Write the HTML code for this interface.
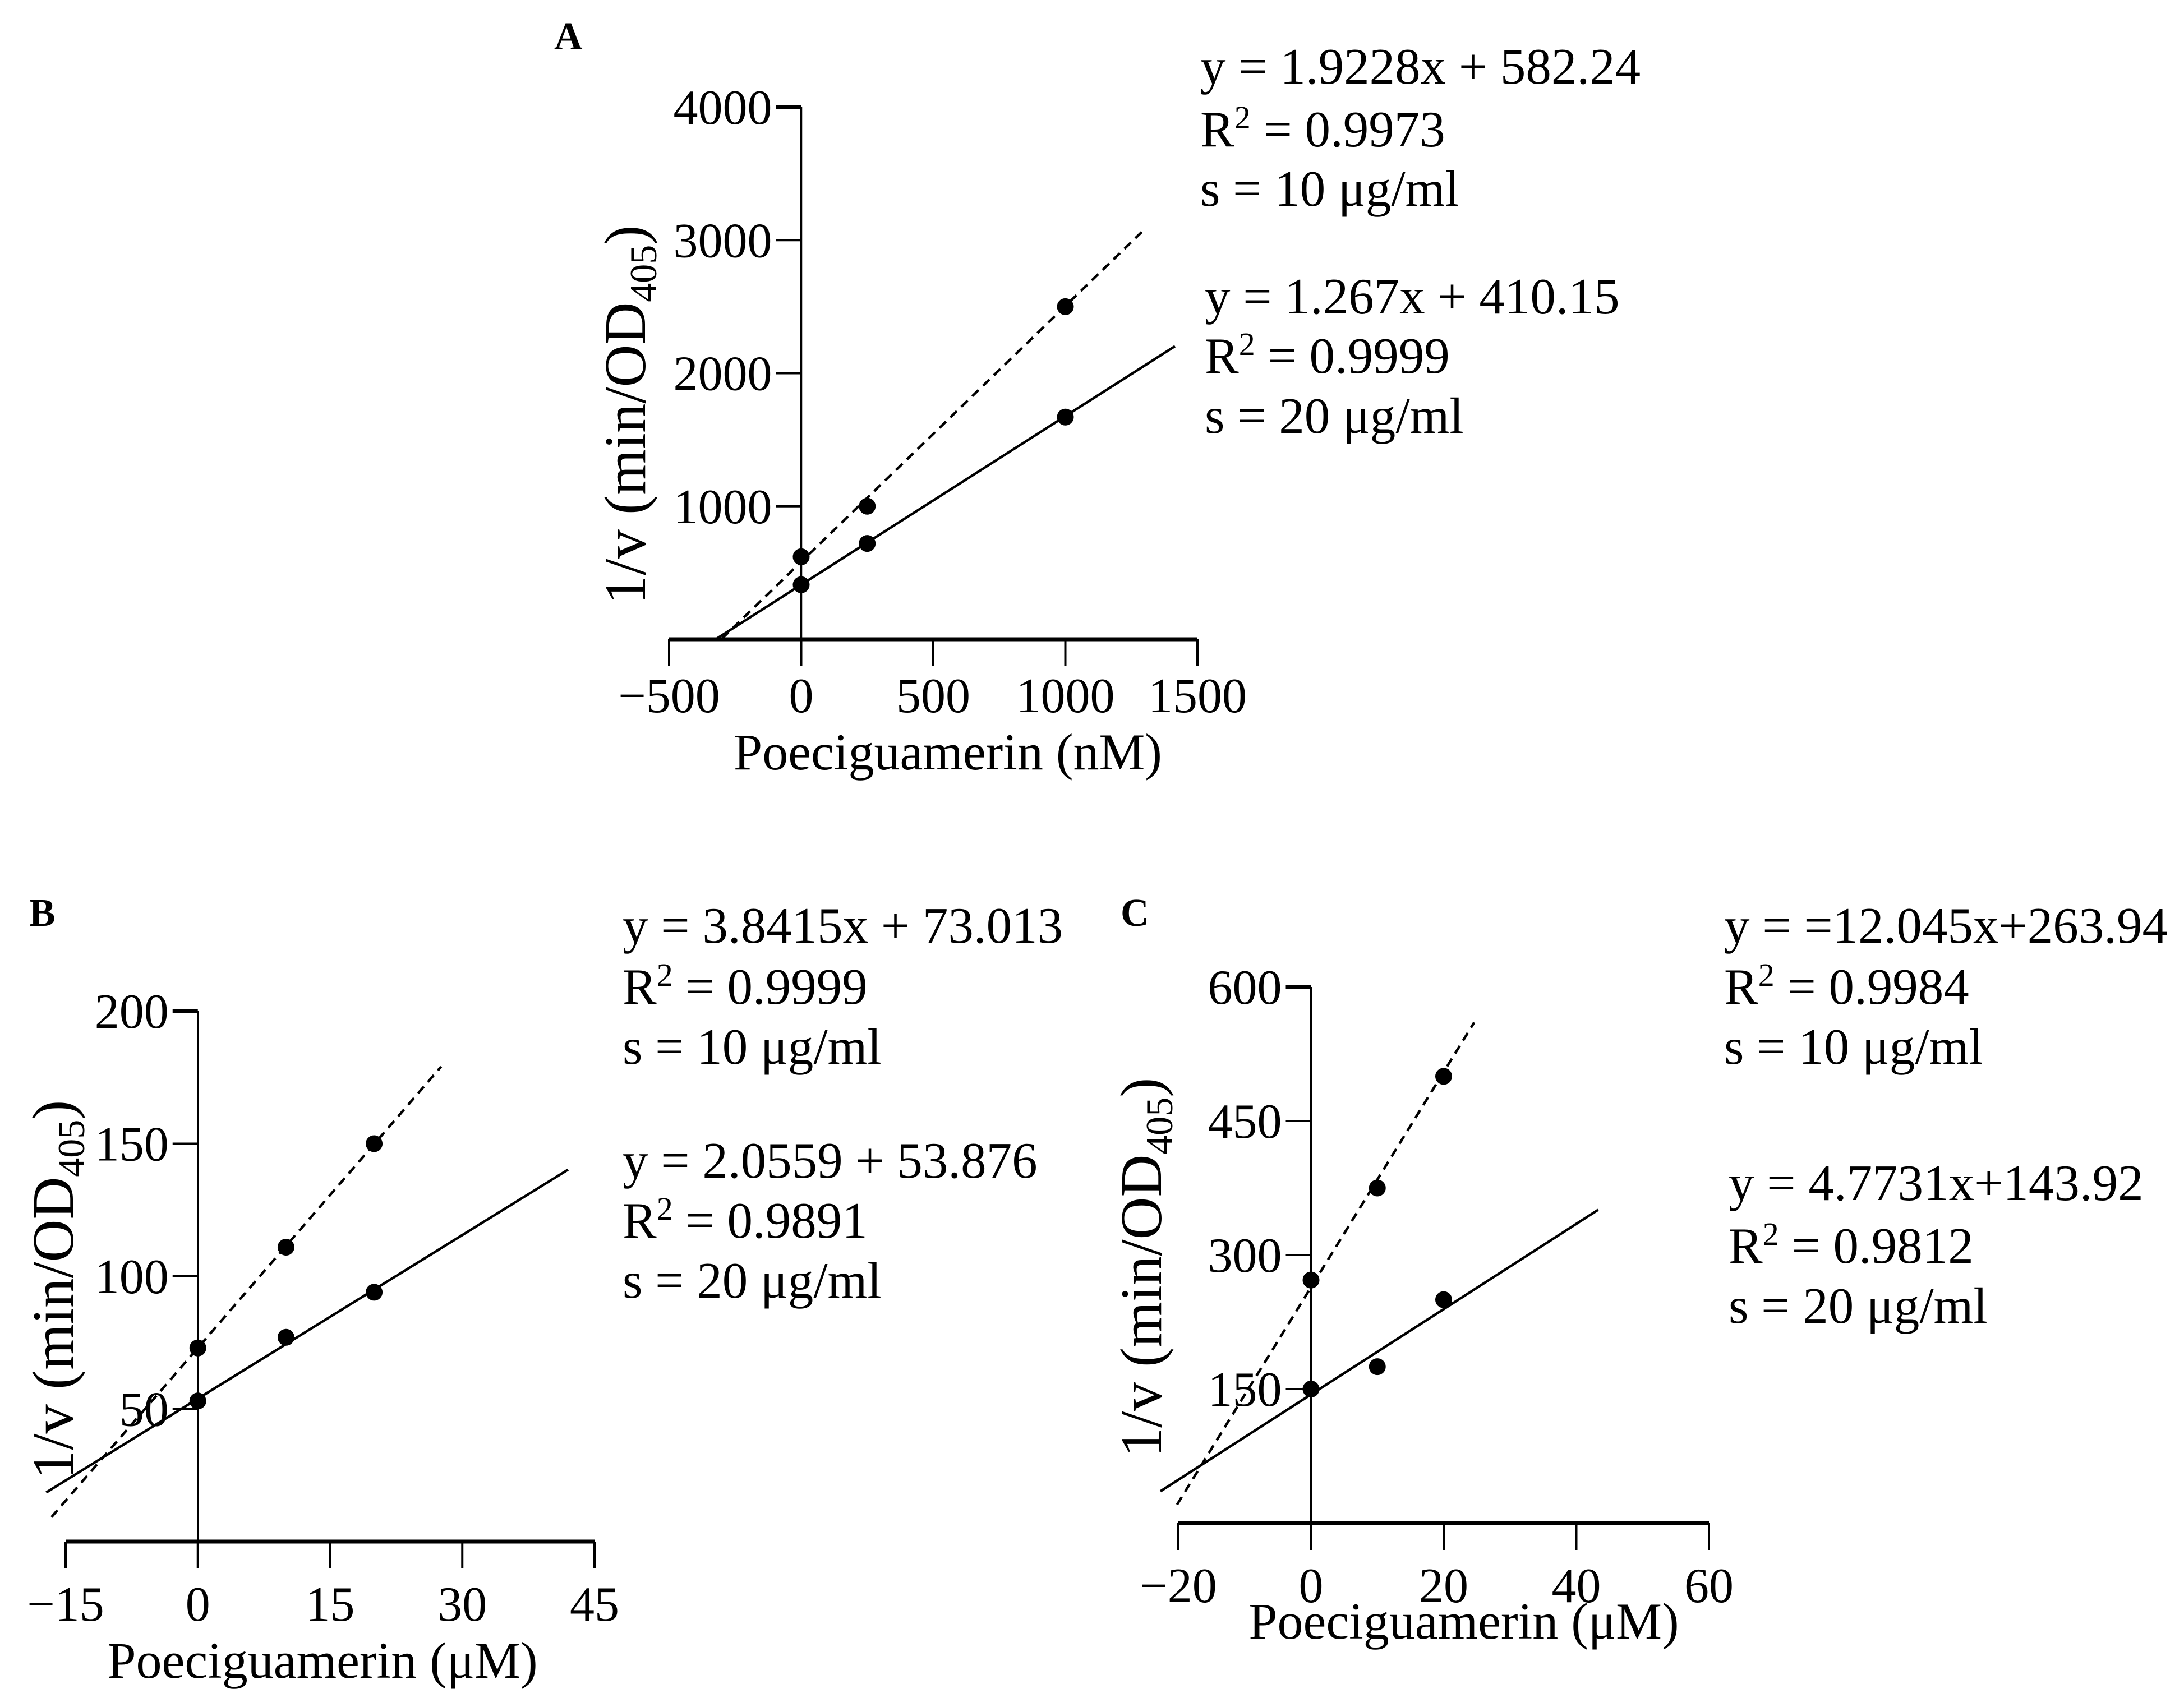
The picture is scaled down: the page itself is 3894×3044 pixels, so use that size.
<!DOCTYPE html>
<html><head><meta charset="utf-8"><style>
html,body{margin:0;padding:0;background:#fff}
svg{display:block}
text{font-family:"Liberation Serif",serif;fill:#000}
</style></head><body>
<svg id="fig" width="3894" height="3044" viewBox="0 0 3894 3044" xmlns="http://www.w3.org/2000/svg"></svg>
<script>
// Panel A data
const aXTicks = [-500, 0, 500, 1000, 1500];
const aYTicks = [1000, 2000, 3000, 4000];
const aX = [0, 250, 1000];
const aY10 = [620, 1000, 2500];
const aY20 = [410, 720, 1670];
const aFit10 = [1.9228, 582.24];
const aFit20 = [1.267, 410.15];
const aRange10 = [-300, 1305];
const aRange20 = [-322, 1415];
// Panel B data
const bXTicks = [-15, 0, 15, 30, 45];
const bYTicks = [50, 100, 150, 200];
const bX = [0, 10, 20];
const bY10 = [73, 111, 150];
const bY20 = [53, 77, 94];
const bFit10 = [3.8415, 73.013];
const bFit20 = [2.0559, 53.876];
const bRange10 = [-16.6, 27.6];
const bRange20 = [-17.2, 42];
// Panel C data
const cXTicks = [-20, 0, 20, 40, 60];
const cYTicks = [150, 300, 450, 600];
const cX = [0, 10, 20];
const cY10 = [272, 375, 500];
const cY20 = [150, 175, 250];
const cFit10 = [12.045, 263.94];
const cFit20 = [4.7731, 143.92];
const cRange10 = [-20.2, 24.6];
const cRange20 = [-22.7, 43.3];

const NS = "http://www.w3.org/2000/svg";
const svg = document.getElementById('fig');
function mk(tag, attrs, parent, txt){
  const e = document.createElementNS(NS, tag);
  for (const k in attrs) e.setAttribute(k, attrs[k]);
  if (txt !== undefined) e.textContent = txt;
  (parent || svg).appendChild(e);
  return e;
}

function panel(cfg){
  const g = mk('g', {});
  
  
  const sx = v => cfg.x0 + (v - cfg.xmin) / (cfg.xmax - cfg.xmin) * (cfg.x1 - cfg.x0);
  const sy = v => cfg.y0 - (v - cfg.ymin) / (cfg.ymax - cfg.ymin) * (cfg.y0 - cfg.y1);
  const xa = mk('line', {x1: sx(cfg.xmin), x2: sx(cfg.xmax), y1: cfg.y0, y2: cfg.y0, stroke: '#000', 'stroke-width': 7}, g);
  
  
  cfg.xTicks.forEach(t => {
    const tk = mk('line', {x1: sx(t), x2: sx(t), y1: cfg.y0, y2: cfg.y0 + 48, stroke: '#000', 'stroke-width': 4}, g);
    
    
    const lb = mk('text', {x: sx(t), y: cfg.xLabY, 'font-size': 88, 'text-anchor': 'middle'}, g, t < 0 ? '\u2212' + Math.abs(t) : String(t));
    
    
  });
  const ya = mk('line', {x1: sx(0), x2: sx(0), y1: sy(cfg.ymax), y2: cfg.y0, stroke: '#000', 'stroke-width': 3.5}, g);
  
  
  cfg.yTicks.forEach(t => {
    const tk = mk('line', {x1: sx(0) - 45, x2: sx(0), y1: sy(t), y2: sy(t), stroke: '#000', 'stroke-width': t === cfg.ymax ? 7 : 4}, g);
    
    
    const lb = mk('text', {x: sx(0) - 52, y: sy(t) + 30, 'font-size': 88, 'text-anchor': 'end'}, g, String(t));
    
    
  });
  const l1 = mk('line', {x1: sx(cfg.r10[0]), y1: sy(cfg.f10[0]*cfg.r10[0]+cfg.f10[1]), x2: sx(cfg.r10[1]), y2: sy(cfg.f10[0]*cfg.r10[1]+cfg.f10[1]), stroke: '#000', 'stroke-width': 4.5, 'stroke-dasharray': '16 11'}, g);
  
  
  const l2 = mk('line', {x1: sx(cfg.r20[0]), y1: sy(cfg.f20[0]*cfg.r20[0]+cfg.f20[1]), x2: sx(cfg.r20[1]), y2: sy(cfg.f20[0]*cfg.r20[1]+cfg.f20[1]), stroke: '#000', 'stroke-width': 4.5}, g);
  
  
  cfg.xs.forEach((x, i) => {
    const p1 = mk('circle', {cx: sx(x), cy: sy(cfg.y10[i]), r: 15, fill: '#000'}, g);
    
    
    const p2 = mk('circle', {cx: sx(x), cy: sy(cfg.y20[i]), r: 15, fill: '#000'}, g);
    
    
  });
  const xt = mk('text', {x: cfg.xtX, y: cfg.xtY, 'font-size': 92, 'text-anchor': 'middle'}, g, cfg.xTitle);
  
  
  const yt = mk('text', {x: 0, y: 0, 'font-size': 105, 'text-anchor': 'middle', transform: `translate(${cfg.ytX},${cfg.ytY}) rotate(-90)`}, g);
  
  
  mk('tspan', {}, yt, '1/v (min/OD');
  mk('tspan', {'font-size': 68, dy: 20}, yt, '405');
  mk('tspan', {dy: -20}, yt, ')');
  const L = mk('text', {x: cfg.letX, y: cfg.letY, 'font-size': 70, 'font-weight': 'bold'}, g, cfg.letter);
  
  
  [cfg.eq1, cfg.eq2].forEach((blk, bi) => {
    blk.lines.forEach((ln, li) => {
      const t = mk('text', {x: blk.x, y: blk.ys[li], 'font-size': 91}, g);
      
      
      if (li === 1) {
        mk('tspan', {}, t, 'R');
        mk('tspan', {'font-size': 58, dy: -32}, t, '2');
        mk('tspan', {dy: 32}, t, ln);
      } else t.textContent = ln;
    });
  });
}

panel({name:'panel-a', letter:'A', letX: 988, letY: 88,
  x0:1193, x1:2135, xmin:-500, xmax:1500, y0:1140, y1:191, ymin:0, ymax:4000,
  xTicks:aXTicks, yTicks:aYTicks, xs:aX, y10:aY10, y20:aY20, f10:aFit10, f20:aFit20, r10:aRange10, r20:aRange20,
  xLabY:1270, xTitle:'Poeciguamerin (nM)', xtX:1690, xtY:1372, ytX:1150, ytY:740,
  eq1:{x:2140, ys:[149,261,367], lines:['y = 1.9228x + 582.24',' = 0.9973','s = 10 \u03bcg/ml']},
  eq2:{x:2148, ys:[559,665,772], lines:['y = 1.267x + 410.15',' = 0.9999','s = 20 \u03bcg/ml']}});

panel({name:'panel-b', letter:'B', letX: 52, letY: 1651,
  x0:117, x1:1060, xmin:-15, xmax:45, y0:2749, y1:1803, ymin:0, ymax:200,
  xTicks:bXTicks, yTicks:bYTicks, xs:bX, y10:bY10, y20:bY20, f10:bFit10, f20:bFit20, r10:bRange10, r20:bRange20,
  xLabY:2890, xTitle:'Poeciguamerin (\u03bcM)', xtX:575, xtY:2992, ytX:130, ytY:2300,
  eq1:{x:1110, ys:[1681,1790,1897], lines:['y = 3.8415x + 73.013',' = 0.9999','s = 10 \u03bcg/ml']},
  eq2:{x:1110, ys:[2100,2207,2314], lines:['y = 2.0559 + 53.876',' = 0.9891','s = 20 \u03bcg/ml']}});

panel({name:'panel-c', letter:'C', letX: 1998, letY: 1651,
  x0:2101, x1:3047, xmin:-20, xmax:60, y0:2716, y1:1760, ymin:0, ymax:600,
  xTicks:cXTicks, yTicks:cYTicks, xs:cX, y10:cY10, y20:cY20, f10:cFit10, f20:cFit20, r10:cRange10, r20:cRange20,
  xLabY:2857, xTitle:'Poeciguamerin (\u03bcM)', xtX:2610, xtY:2922, ytX:2070, ytY:2260,
  eq1:{x:3074, ys:[1681,1790,1897], lines:['y = =12.045x+263.94',' = 0.9984','s = 10 \u03bcg/ml']},
  eq2:{x:3082, ys:[2140,2252,2359], lines:['y = 4.7731x+143.92',' = 0.9812','s = 20 \u03bcg/ml']}});
</script>
</body></html>
